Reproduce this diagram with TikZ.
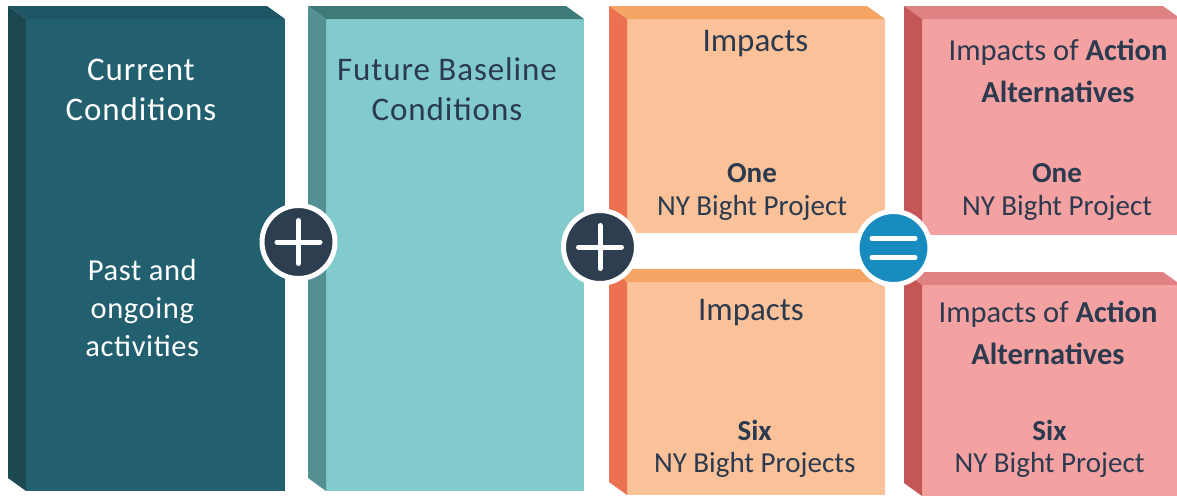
\documentclass[tikz,border=0pt]{standalone}
\usepackage{fontspec}
\setmainfont{Carlito}
\newfontfamily\trackfont[LetterSpace=2.8]{Carlito}
\newfontfamily\bodyfont[LetterSpace=2]{Carlito}
\usetikzlibrary{calc}
\definecolor{facecur}{HTML}{22606F}
\definecolor{topcur}{HTML}{1F5666}
\definecolor{sidecur}{HTML}{1C4852}
\definecolor{facefut}{HTML}{82CBCD}
\definecolor{topfut}{HTML}{3F7A7B}
\definecolor{sidefut}{HTML}{538F93}
\definecolor{faceimp}{HTML}{FBC198}
\definecolor{topimp}{HTML}{F4A564}
\definecolor{sideimp}{HTML}{EB7150}
\definecolor{facealt}{HTML}{F4A1A2}
\definecolor{topalt}{HTML}{E08283}
\definecolor{sidealt}{HTML}{C45656}
\definecolor{ink}{HTML}{2B3A4E}
\definecolor{opdark}{HTML}{2C3E50}
\definecolor{opblue}{HTML}{188BBF}
\tikzset{
  face/.style={fill=face#1, draw=none, inner sep=0pt, outer sep=0pt, anchor=north west},
  op/.style={circle, fill=#1, draw=white, line width=5pt, minimum size=73pt, inner sep=0pt},
  bar/.style={draw=white, line width=5pt, line cap=round},
  plusop/.style={op=opdark, path picture={
    \draw[bar] ($(path picture bounding box.center)+(-21.5,0)$) -- ++(43,0);
    \draw[bar] ($(path picture bounding box.center)+(0,-21.5)$) -- ++(0,43);}},
  eqop/.style={op=opblue, path picture={
    \draw[bar] ($(path picture bounding box.center)+(-21.5,-9.5)$) -- ++(43,0);
    \draw[bar] ($(path picture bounding box.center)+(-21.5,9.5)$) -- ++(43,0);}},
  txt/.style={inner sep=0pt, align=center, anchor=base, text=ink},
  ttl/.style={txt, font=\trackfont\fontsize{33}{40.5}\selectfont},
  bdy/.style={txt, font=\bodyfont\fontsize{30.5}{38.3}\selectfont},
  hdA/.style={txt, font=\fontsize{33}{40}\selectfont},
  hdB/.style={txt, font=\fontsize{30.5}{42}\selectfont},
  sub/.style={txt, font=\fontsize{29}{32.5}\selectfont}
}

\begin{document}
\begin{tikzpicture}[x=1pt, y=-1pt]
  \fill[white] (0,0) rectangle (1177,496);
  \clip (0,0) rectangle (1177,496);

  % front faces
  \node[face=cur, minimum width=259pt, minimum height=472pt] (cur) at (26,19) {};
  \node[face=fut, minimum width=258pt, minimum height=472pt] (fut) at (326,19) {};
  \node[face=imp, minimum width=258pt, minimum height=214pt] (impA) at (627,19) {};
  \node[face=imp, minimum width=258pt, minimum height=213pt] (impB) at (627,282) {};
  \node[face=alt, minimum width=259pt, minimum height=216pt] (altA) at (922,19) {};
  \node[face=alt, minimum width=259pt, minimum height=211pt] (altB) at (922,285) {};

  % bevels on top and left
  \foreach \f/\c in {cur/cur, fut/fut, impA/imp, impB/imp, altA/alt, altB/alt} {
    \fill[top\c] (\f.north west) -- ++(-18,-13) -- ($(\f.north east)+(-18,-13)$) -- (\f.north east) -- cycle;
    \fill[side\c] (\f.north west) -- ++(-18,-13) -- ($(\f.south west)+(-18,-13)$) -- (\f.south west) -- cycle;
  }

  % texts, placed by the baseline of their last line
  \node[ttl, text=white] (curT) at (141,120.5) {Current\\Conditions};
  \node[bdy, text=white] (curB) at (142.3,356.6) {Past and\\ongoing\\activities};
  \node[ttl] (futT) at (447,120.5) {Future Baseline\\Conditions};
  \node[hdA] (impAT) at (755.4,51.7) {Impacts};
  \node[sub] (impAS) at (752,215) {\textbf{One}\\NY Bight Project};
  \node[hdA] (impBT) at (751,320) {Impacts};
  \node[sub] (impBS) at (754.7,472.5) {\textbf{Six}\\NY Bight Projects};
  \node[hdB] (altAT) at (1058,102.7) {Impacts of \textbf{Action}\\\textbf{Alternatives}};
  \node[sub] (altAS) at (1057,215) {\textbf{One}\\NY Bight Project};
  \node[hdB] (altBT) at (1048,364) {Impacts of \textbf{Action}\\\textbf{Alternatives}};
  \node[sub] (altBS) at (1049.5,472.5) {\textbf{Six}\\NY Bight Project};

  % operators
  \node[plusop] (plusA) at (298.5,242) {};
  \node[plusop] (plusB) at (600,247) {};
  \node[eqop] (eq) at (893.5,248) {};
\end{tikzpicture}
\end{document}
